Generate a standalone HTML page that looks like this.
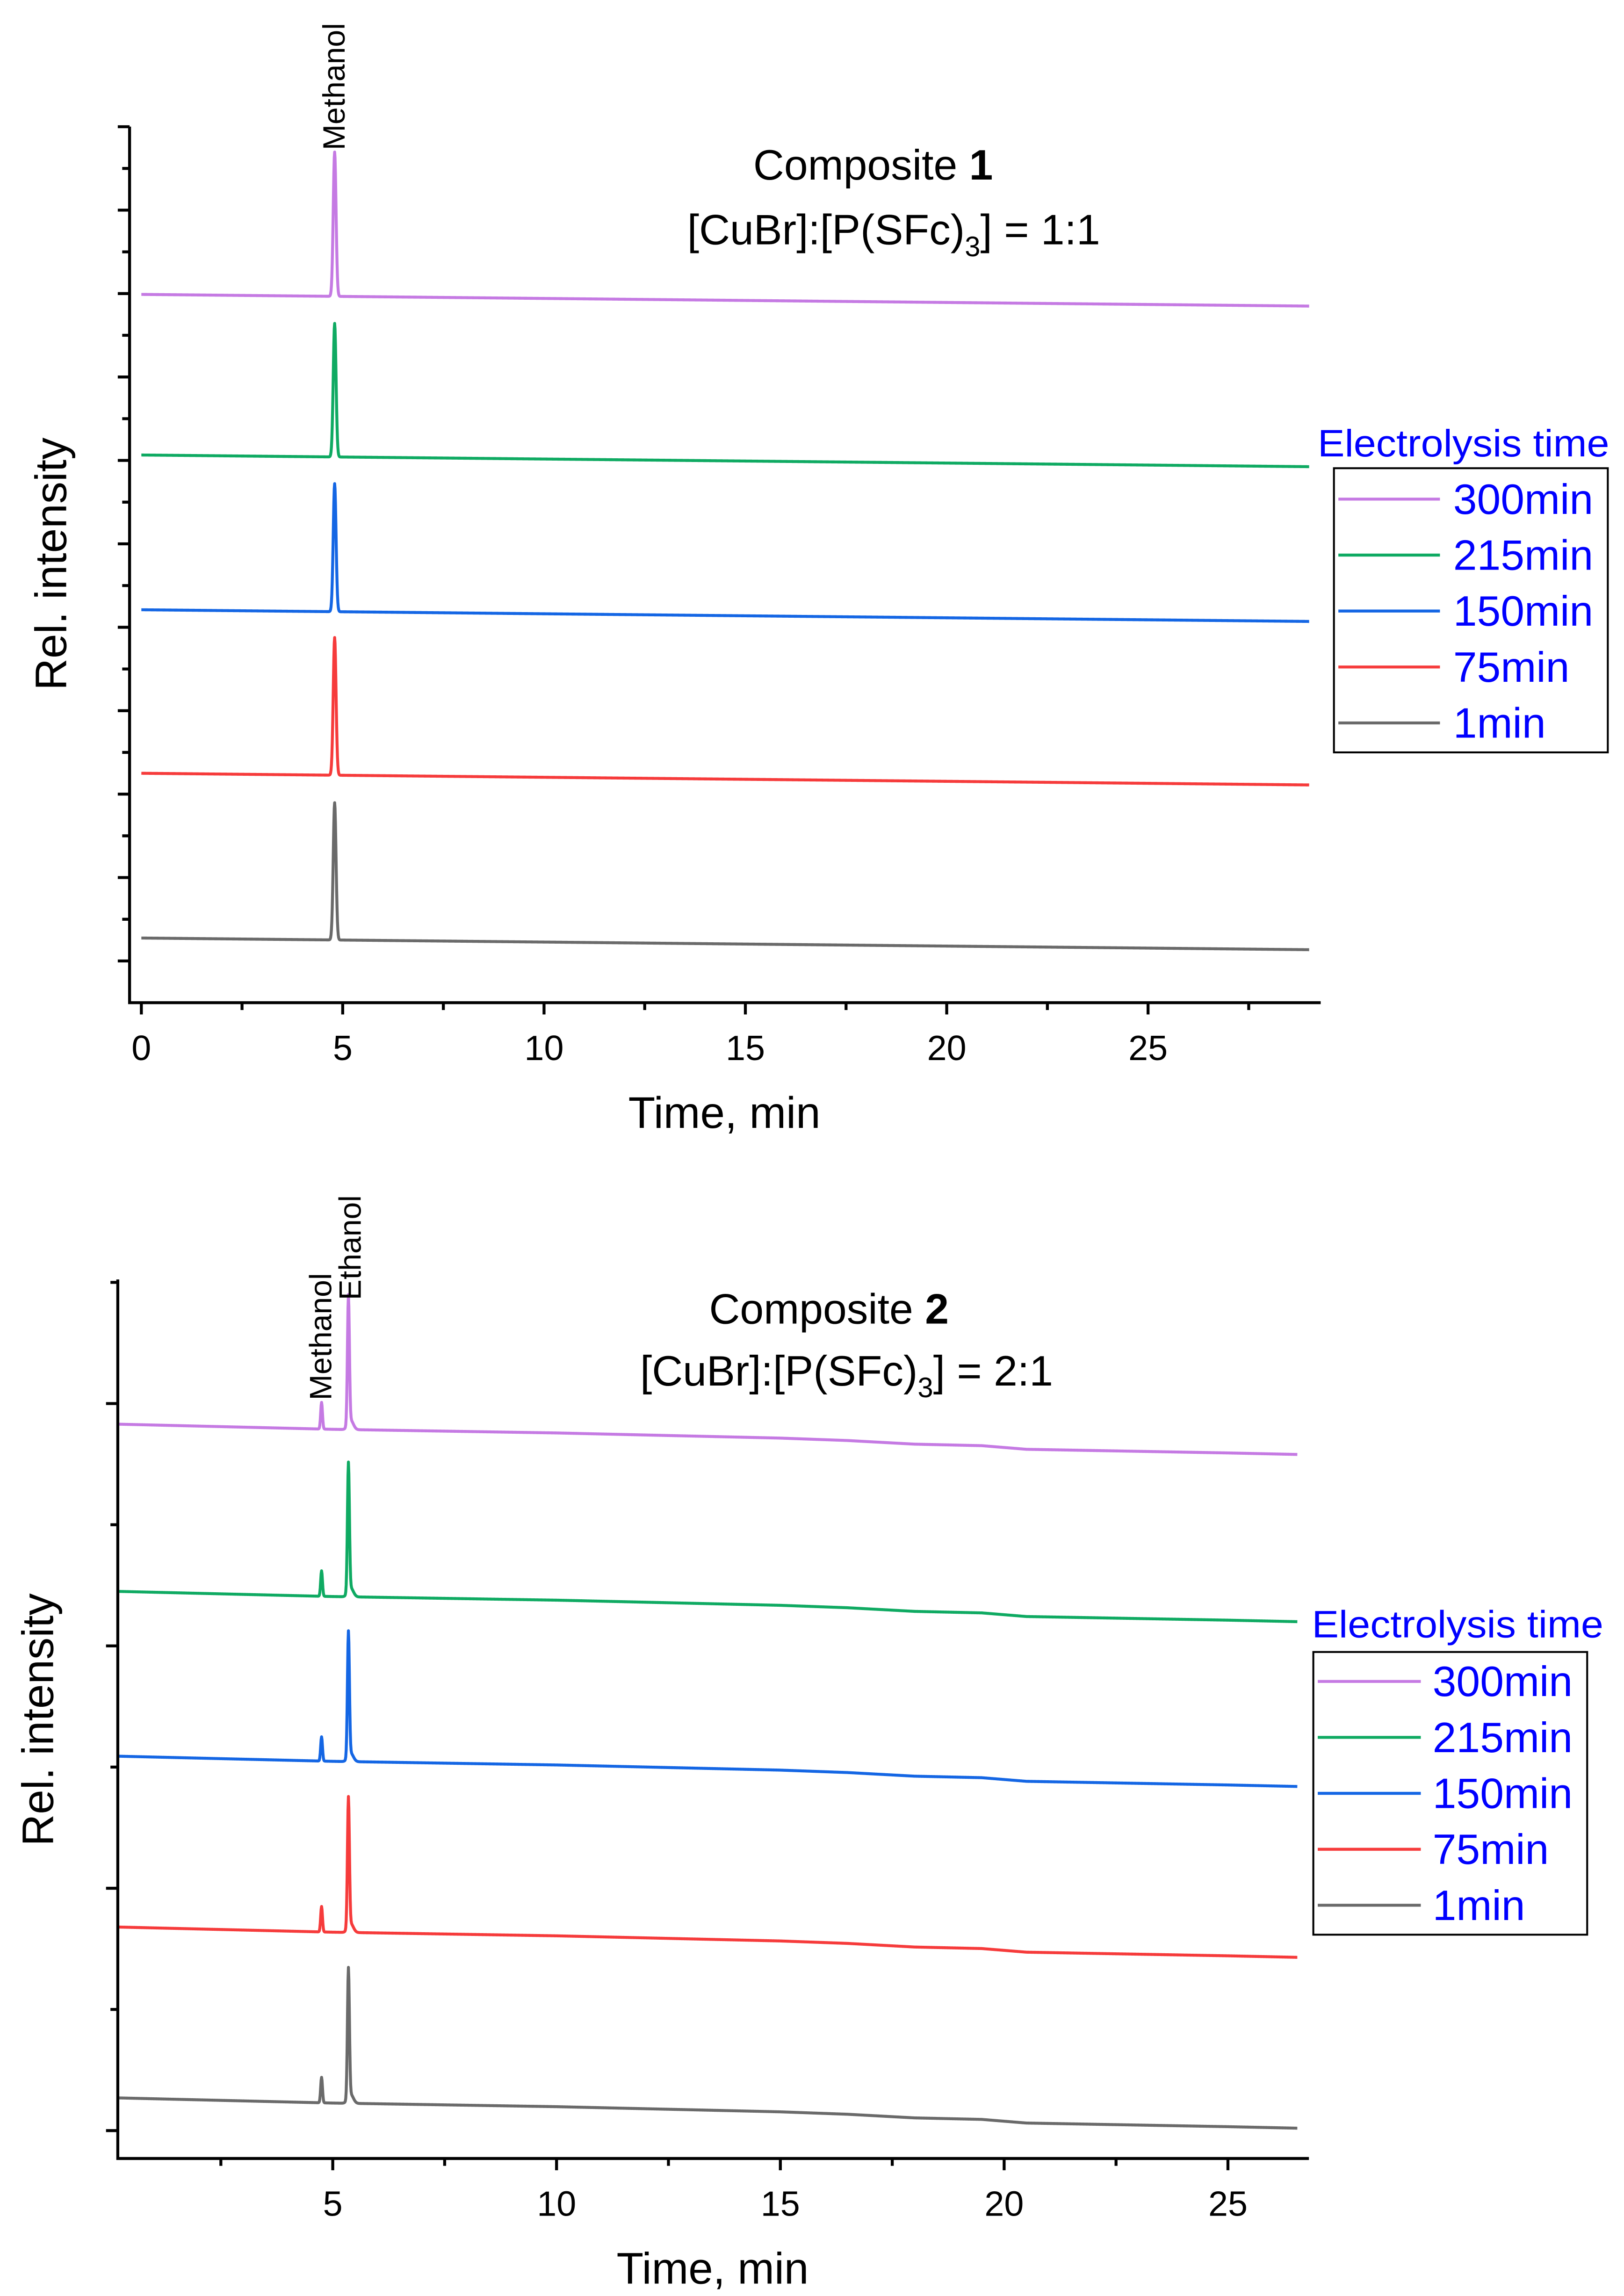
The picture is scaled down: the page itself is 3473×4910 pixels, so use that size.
<!DOCTYPE html>
<html><head><meta charset="utf-8"><style>
html,body{margin:0;padding:0;background:#fff;overflow:hidden;}
svg{display:block;font-family:"Liberation Sans",sans-serif;}
</style></head><body>
<svg id="fig" width="3473" height="4910" viewBox="0 0 1103 1559.4">
<rect width="1103" height="1559.4" fill="#fff"/>
<g id="c1"></g>
<g id="c2"></g>
</svg>
<script>
// ---- data ----
const seriesNames = ["300min","215min","150min","75min","1min"];
const seriesColors = ["#C57AE3","#0FAA62","#1466E4","#F63B3B","#6A6A6A"];
// chart 1
const c1Baseline = [16.98, 13.13, 9.42, 5.5, 1.55];
const c1Methanol = [3.46, 3.2, 3.07, 3.3, 3.29];
const c1MethanolTime = 4.8;
const c1Drift = 0.28;
const c1XTicks = [0,5,10,15,20,25];
// chart 2
const c2Baseline = [6.06, 4.68, 3.32, 1.91, 0.50];
const c2Methanol = [0.22, 0.21, 0.2, 0.21, 0.21];
const c2Ethanol = [1.06, 1.06, 1.03, 1.07, 1.07];
const c2MethanolTime = 4.75;
const c2EthanolTime = 5.35;
const c2Drift = 0.25;
const c2DriftTimes = [0.2,5,10,15,16.5,18,19.5,20.5,25,26.55];
const c2DriftFrac = [0,0.17,0.29,0.46,0.54,0.66,0.71,0.83,0.95,1.0];
const c2XTicks = [5,10,15,20,25];

const NS="http://www.w3.org/2000/svg";
function mk(parent,tag,attrs,text){const e=document.createElementNS(NS,tag);for(const k in attrs)e.setAttribute(k,attrs[k]);if(text!==undefined)e.textContent=text;parent.appendChild(e);return e;}
function interp(t,xs,ys){if(t<=xs[0])return ys[0];for(let i=1;i<xs.length;i++){if(t<=xs[i]){const f=(t-xs[i-1])/(xs[i]-xs[i-1]);return ys[i-1]+f*(ys[i]-ys[i-1]);}}return ys[ys.length-1];}

function drawChart(g,cfg){
  const X=t=>cfg.x0+ (t-cfg.t0)*cfg.kx;
  const Y=v=>cfg.yb - (v-cfg.v0)*cfg.ky;
  for(let s=0;s<seriesNames.length;s++){
    let d="";
    for(let t=cfg.tStart;t<=cfg.tEnd+1e-9;t+=0.01){
      let v=cfg.base[s]-cfg.drift*cfg.driftFn(t);
      for(const p of cfg.peaks){ v+=p.h[s]*Math.exp(-Math.pow((t-p.t)/p.w,2)/2); }
      d+=(d?"L":"M")+X(t).toFixed(2)+","+Y(v).toFixed(2);
    }
    const path=mk(g,"path",{d:d,fill:"none",stroke:seriesColors[s],"stroke-width":2,"stroke-linejoin":"round"});
    
    
  }
  const ax=mk(g,"path",{d:`M${cfg.axL},${cfg.axT}V${cfg.yb}H${cfg.axR}`,fill:"none",stroke:"#000","stroke-width":2});
  
  
  for(const yt of cfg.yTicks){
    const tk=mk(g,"line",{x1:cfg.axL-(yt.major?8:5),x2:cfg.axL,y1:Y(yt.v),y2:Y(yt.v),stroke:"#000","stroke-width":2});
    
    
  }
  for(let t=Math.ceil(cfg.tickStart/2.5)*2.5;t<=cfg.tickEnd;t+=2.5){
    const major=Math.abs(t/5-Math.round(t/5))<1e-6;
    const tk=mk(g,"line",{x1:X(t),x2:X(t),y1:cfg.yb,y2:cfg.yb+(major?8:5),stroke:"#000","stroke-width":2});
    
    
  }
  for(const t of cfg.xTicks){
    const lb=mk(g,"text",{x:X(t),y:cfg.yb+39,"font-size":24,"text-anchor":"middle"},String(t));
    
    
  }
}

const c1=document.getElementById('c1');
drawChart(c1,{x0:96,t0:0,kx:27.35,yb:681,v0:0,ky:28.33,tStart:0,tEnd:29,
  base:c1Baseline,drift:c1Drift,driftFn:t=>t/29,
  peaks:[{t:c1MethanolTime,w:0.035,h:c1Methanol}],
  axL:88,axT:86,axR:897,tickStart:0,tickEnd:29,xTicks:c1XTicks,
  yTicks:Array.from({length:21},(_,i)=>({v:i+1,major:(i%2===0)}))});

const c2=document.getElementById('c2');
drawChart(c2,{x0:226,t0:5,kx:30.4,yb:1466,v0:0,ky:82.3,tStart:0.2,tEnd:26.55,
  base:c2Baseline,drift:c2Drift,driftFn:t=>interp(t,c2DriftTimes,c2DriftFrac),
  peaks:[{t:c2MethanolTime,w:0.02,h:c2Methanol},{t:c2EthanolTime,w:0.022,h:c2Ethanol},{t:c2EthanolTime+0.05,w:0.06,h:c2Methanol.map(v=>v*0.35)}],
  axL:80,axT:869,axR:889,tickStart:0.3,tickEnd:26.6,xTicks:c2XTicks,
  yTicks:Array.from({length:8},(_,i)=>({v:0.23+i,major:(i%2===0)}))});
</script>

<svg width="3473" height="4910" viewBox="0 0 1103 1559.4" style="position:absolute;left:0;top:0;font-family:'Liberation Sans',sans-serif;">
 <text x="492" y="766" font-size="30" text-anchor="middle">Time, min</text>
 <text transform="translate(45,383) rotate(-90)" font-size="30" text-anchor="middle">Rel. intensity</text>
 <text transform="translate(234,102) rotate(-90)" font-size="21">Methanol</text>
 <text x="593" y="122" font-size="29" text-anchor="middle">Composite <tspan font-weight="bold">1</tspan></text>
 <text x="607" y="166" font-size="29" text-anchor="middle">[CuBr]:[P(SFc)<tspan font-size="19" dy="8">3</tspan><tspan dy="-8">] = 1:1</tspan></text>
 <text x="994" y="310" font-size="26" fill="#0000ff" text-anchor="middle" textLength="198" lengthAdjust="spacingAndGlyphs">Electrolysis time</text>
 <rect x="906" y="318" width="186" height="193" fill="none" stroke="#000" stroke-width="1.3"/>
 <g font-size="29" fill="#0000ff">
  <line x1="909" x2="978" y1="339" y2="339" stroke="#C57AE3" stroke-width="2"/><text x="987" y="349">300min</text>
  <line x1="909" x2="978" y1="377" y2="377" stroke="#0FAA62" stroke-width="2"/><text x="987" y="387">215min</text>
  <line x1="909" x2="978" y1="415" y2="415" stroke="#1466E4" stroke-width="2"/><text x="987" y="425">150min</text>
  <line x1="909" x2="978" y1="453" y2="453" stroke="#F63B3B" stroke-width="2"/><text x="987" y="463">75min</text>
  <line x1="909" x2="978" y1="491" y2="491" stroke="#6A6A6A" stroke-width="2"/><text x="987" y="501">1min</text>
 </g>

 <text x="484" y="1551" font-size="30" text-anchor="middle">Time, min</text>
 <text transform="translate(36,1168) rotate(-90)" font-size="30" text-anchor="middle">Rel. intensity</text>
 <text transform="translate(225,951) rotate(-90)" font-size="21">Methanol</text>
 <text transform="translate(245,883) rotate(-90)" font-size="21">Ethanol</text>
 <text x="563" y="899" font-size="29" text-anchor="middle">Composite <tspan font-weight="bold">2</tspan></text>
 <text x="575" y="941" font-size="29" text-anchor="middle">[CuBr]:[P(SFc)<tspan font-size="19" dy="8">3</tspan><tspan dy="-8">] = 2:1</tspan></text>
 <text x="990" y="1112" font-size="26" fill="#0000ff" text-anchor="middle" textLength="198" lengthAdjust="spacingAndGlyphs">Electrolysis time</text>
 <rect x="892" y="1122" width="186" height="192" fill="none" stroke="#000" stroke-width="1.3"/>
 <g font-size="29" fill="#0000ff">
  <line x1="895" x2="965" y1="1142" y2="1142" stroke="#C57AE3" stroke-width="2"/><text x="973" y="1152">300min</text>
  <line x1="895" x2="965" y1="1180" y2="1180" stroke="#0FAA62" stroke-width="2"/><text x="973" y="1190">215min</text>
  <line x1="895" x2="965" y1="1218" y2="1218" stroke="#1466E4" stroke-width="2"/><text x="973" y="1228">150min</text>
  <line x1="895" x2="965" y1="1256" y2="1256" stroke="#F63B3B" stroke-width="2"/><text x="973" y="1266">75min</text>
  <line x1="895" x2="965" y1="1294" y2="1294" stroke="#6A6A6A" stroke-width="2"/><text x="973" y="1304">1min</text>
 </g>
</svg>
</body></html>
